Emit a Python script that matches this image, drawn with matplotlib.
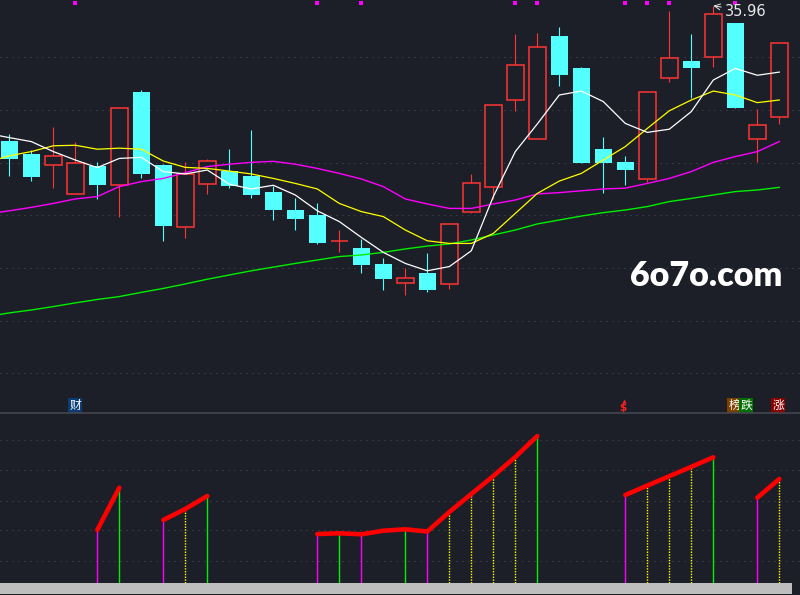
import numpy as np
import matplotlib
matplotlib.use('Agg')
import matplotlib.pyplot as plt
from matplotlib.patches import Rectangle
from matplotlib.transforms import blended_transform_factory

BG = '#1c1f28'
GRID = '#4a4c56'
RED = '#ff3434'
CYAN = '#54ffff'
MAGENTA = '#ff00ff'
GREEN = '#00f000'
YELLOW = '#ffff00'
CJK = ['Noto Sans CJK SC', 'DejaVu Sans']

# daily candles
opens = [30.82, 30.33, 29.90, 28.80, 29.88, 29.14, 32.68, 29.91, 27.57, 29.18, 29.67, 29.49,
         28.88, 28.20, 28.01, 27.02, 26.76, 26.15, 25.41, 25.79, 25.40, 28.11, 29.06, 32.37,
         30.89, 34.81, 33.60, 30.52, 30.02, 29.37, 33.20, 33.86, 34.00, 35.31, 30.89, 31.72]
highs = [31.09, 30.48, 31.35, 30.77, 30.01, 32.08, 32.76, 29.95, 30.02, 30.14, 30.52, 31.24,
         29.12, 28.64, 28.47, 27.44, 27.10, 26.39, 25.98, 26.55, 27.66, 29.58, 32.18, 34.90,
         34.93, 35.15, 33.63, 30.97, 30.25, 32.67, 35.76, 34.90, 35.96, 35.31, 32.03, 34.54]
lows = [29.50, 29.30, 29.05, 28.80, 28.62, 27.95, 29.43, 27.03, 27.15, 28.82, 29.05, 28.67,
        27.83, 27.45, 26.92, 26.62, 25.82, 25.17, 24.97, 25.10, 25.21, 28.07, 28.62, 31.97,
        30.89, 32.92, 30.00, 28.83, 29.16, 29.26, 33.08, 32.47, 33.65, 32.09, 30.04, 31.48]
closes = [30.14, 29.47, 30.24, 29.97, 29.16, 32.06, 29.58, 27.60, 29.57, 30.05, 29.12, 28.78,
          28.21, 27.87, 26.96, 27.03, 26.12, 25.59, 25.60, 25.17, 27.66, 29.21, 32.18, 33.70,
          34.38, 33.34, 30.00, 30.00, 29.73, 32.67, 33.96, 33.61, 35.64, 32.09, 31.42, 34.54]

# moving averages, first value belongs to the day before the window
ma5 = [31.11, 30.95, 30.80, 30.42, 30.10, 29.81, 30.16, 30.20, 29.66, 29.57, 29.72, 29.18,
       29.00, 29.14, 28.77, 28.17, 27.76, 27.16, 26.59, 26.17, 25.89, 26.05, 26.65, 28.71,
       30.42, 31.47, 32.57, 32.72, 32.32, 31.49, 31.15, 31.27, 31.94, 33.14, 33.58, 33.32, 33.44]
ma10 = [30.01, 30.26, 30.42, 30.64, 30.66, 30.51, 30.55, 30.51, 30.06, 29.82, 29.78, 29.68,
        29.57, 29.40, 29.21, 29.00, 28.45, 28.14, 27.95, 27.44, 27.03, 26.93, 26.93, 27.31,
        28.07, 28.83, 29.30, 29.59, 30.10, 30.61, 31.30, 31.97, 32.38, 32.72, 32.57, 32.28, 32.38]
ma20 = [28.05, 28.17, 28.30, 28.45, 28.62, 28.71, 29.09, 29.28, 29.40, 29.62, 29.85, 29.94,
        30.01, 30.05, 29.94, 29.78, 29.59, 29.38, 29.09, 28.62, 28.43, 28.26, 28.26, 28.43,
        28.58, 28.81, 28.86, 28.93, 29.00, 29.03, 29.21, 29.40, 29.66, 30.01, 30.23, 30.42, 30.80]
ma60 = [24.15, 24.29, 24.40, 24.53, 24.67, 24.80, 24.91, 25.07, 25.22, 25.39, 25.57, 25.73,
        25.89, 26.03, 26.17, 26.30, 26.43, 26.49, 26.59, 26.72, 26.83, 26.91, 27.06, 27.25,
        27.44, 27.67, 27.82, 27.97, 28.10, 28.20, 28.33, 28.52, 28.64, 28.77, 28.90, 28.96, 29.06]

signal_days = [3, 14, 16, 23, 24, 28, 29, 30, 33]
signal_level = 36.05
price_grid = [22, 24, 26, 28, 30, 32, 34]

nan = np.nan
indicator = [nan, nan, nan, nan, 53, 95.3, nan, 63, 74, 87, nan, nan, nan, nan,
             49, 49.7, 48.7, 52.3, 53.7, 51.5, 71, 89, 107, 126, 147, nan, nan, nan,
             88, 97.4, 106.8, 116.2, 125.7, nan, 85.3, 104]
bar_kind = ['', '', '', '', 'm', 'g', '', 'm', 'y', 'g', '', '', '', '',
            'm', 'g', 'm', '', 'g', 'm', 'y', 'y', 'y', 'y', 'g', '', '', '',
            'm', 'y', 'y', 'y', 'g', '', 'm', 'y']
ind_grid = [21.7, 52.7, 82.5, 112.7, 142.7]

W, H = 800, 595
X0, STEP = 9.3, 22.0

fig = plt.figure(figsize=(W / 100, H / 100), dpi=100, facecolor=BG)
ax = fig.add_axes([0, 182 / H, 1, 413 / H])
sub = fig.add_axes([0, 12 / H, 1, 170 / H])
for a in (ax, sub):
    a.set_facecolor(BG)
    a.set_xticks([])
    a.set_yticks([])
    for s in a.spines.values():
        s.set_visible(False)
    a.set_xlim(-X0 / STEP, (W - X0) / STEP)
ax.set_ylim(20.486, 36.18)
sub.set_ylim(0, 170)

for g in price_grid:
    ax.axhline(g, color=GRID, lw=0.72, ls=(0, (1, 5)), zorder=0)
for g in ind_grid:
    sub.axhline(g, color=GRID, lw=0.72, ls=(0, (1, 5)), zorder=0)
sub.axhline(170, color='#44464f', lw=1.2, clip_on=False)

o, h, l, c = (np.array(v) for v in (opens, highs, lows, closes))
x = np.arange(len(o))
up = c >= o
dn = ~up

ax.vlines(x[dn], l[dn], h[dn], color=CYAN, lw=0.8, zorder=2)
ax.bar(x[dn], o[dn] - c[dn], bottom=c[dn], width=0.76, color=CYAN, lw=0, zorder=3)
ax.vlines(x[up], c[up], h[up], color=RED, lw=0.8, zorder=2)
ax.vlines(x[up], l[up], o[up], color=RED, lw=0.8, zorder=2)
ax.bar(x[up], np.maximum(c[up] - o[up], 0.004), bottom=o[up], width=0.76,
       facecolor=BG, edgecolor=RED, lw=1.1, zorder=3)

xm = np.arange(-1, len(o))
ax.plot(xm, ma60, color=GREEN, lw=1.0, zorder=4)
ax.plot(xm, ma20, color=MAGENTA, lw=1.0, zorder=4)
ax.plot(xm, ma10, color=YELLOW, lw=0.9, zorder=4)
ax.plot(xm, ma5, color='white', lw=0.9, zorder=4)

ax.plot(signal_days, [signal_level] * len(signal_days), ls='none', marker='s',
        ms=2.6, color=MAGENTA, mew=0, zorder=5)

ax.annotate('35.96', xy=(32, max(highs)), xytext=(32.55, 35.76),
            ha='left', va='center', color='#e8e8e8', fontsize=10.5,
            family=['Liberation Sans Narrow', 'DejaVu Sans'],
            arrowprops=dict(arrowstyle='->', color='#e8e8e8', lw=0.7,
                            shrinkA=1, shrinkB=0), zorder=6)

# event markers on the bottom line of the price panel
tr = blended_transform_factory(ax.transData, ax.transAxes)
for day, label, face, dx in [(3, '财', '#0b3d73', 0), (33, '榜', '#7b3f00', -1),
                             (33, '跌', '#007000', 11), (35, '涨', '#880000', -1)]:
    ax.annotate(label, xy=(day, 0.018), xycoords=tr, xytext=(dx * 0.72, 0),
                textcoords='offset points', ha='center', va='center',
                color='white', fontsize=8.5, family=CJK,
                bbox=dict(boxstyle='square,pad=0.08', fc=face, ec='none'))
ax.annotate('$', xy=(28, 0.013), xycoords=tr, xytext=(-1.4, 0),
            textcoords='offset points', ha='center', va='center',
            color='#ff2020', fontsize=7.5, fontweight='bold')
ax.plot([27.92], [0.029], transform=tr, marker='^', ms=3, color='#ff2020',
        mew=0, ls='none', clip_on=False)

sig = np.array(indicator)
for kind, col, ls in [('m', MAGENTA, '-'), ('g', GREEN, '-'), ('y', YELLOW, (0, (1, 1)))]:
    idx = np.array([i for i, k in enumerate(bar_kind) if k == kind])
    lc = sub.vlines(idx, 0, sig[idx], colors=col, lw=1.0, linestyles=[ls], zorder=2)
    lc.set_snap(True)
sub.plot(x, sig, color='#ff0000', lw=3.3, solid_capstyle='round',
         solid_joinstyle='round', zorder=3)

fig.add_artist(Rectangle((0, 1 / H), 791.7 / W, 11 / H, transform=fig.transFigure,
                         color='#bebebe', lw=0))

fig.text(630 / W, 1 - 286 / H, '6o7o.com', family=['Lato', 'DejaVu Sans'],
         fontweight='heavy', fontsize=24.5, color='white', va='baseline', ha='left')

fig.savefig('out.png', dpi=100, facecolor=BG)
